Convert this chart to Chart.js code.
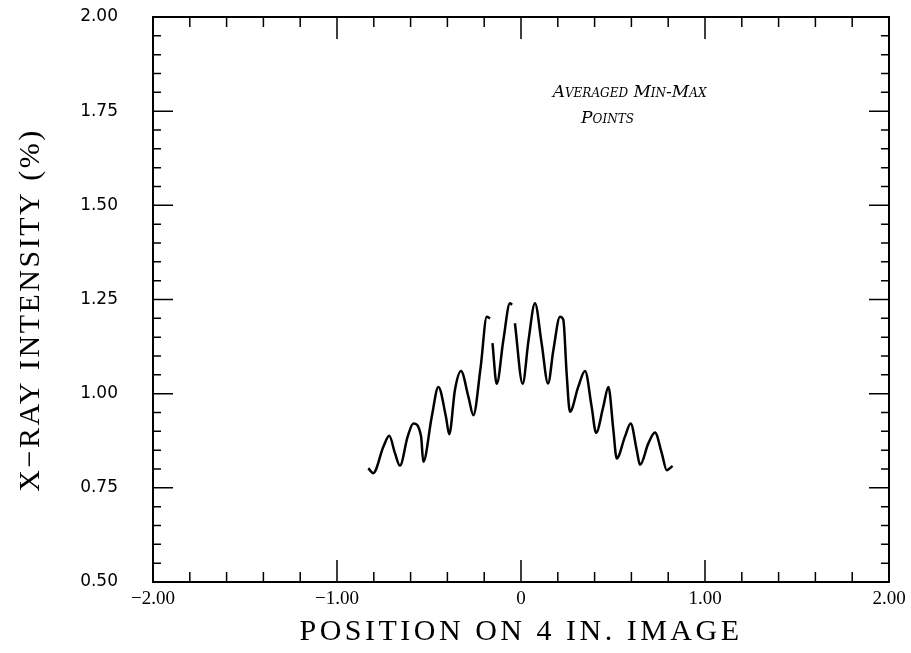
<!DOCTYPE html>
<html>
<head>
<meta charset="utf-8">
<script src="https://cdn.jsdelivr.net/npm/chart.js@4"></script>
<style>
  html, body { margin: 0; padding: 0; background: #fff; }
  #wrap { width: 911px; height: 653px; }
</style>
</head>
<body>
<div id="wrap"><canvas id="c" width="911" height="653"></canvas></div>
<script>
// ---- data ----
const positions = [
  -0.830, -0.803, -0.748, -0.716, -0.685, -0.658, -0.616, -0.585, -0.543, -0.531,
  -0.485, -0.449, -0.408, -0.390, -0.359, -0.326, -0.286, -0.259, -0.219, -0.186,
  -0.168, -0.161, -0.155, -0.132, -0.096, -0.060, -0.048, -0.040, -0.033, 0.009,
  0.041, 0.076, 0.112, 0.147, 0.176, 0.212, 0.230, 0.248, 0.266, 0.311,
  0.348, 0.384, 0.408, 0.447, 0.475, 0.502, 0.520, 0.565, 0.596, 0.629,
  0.647, 0.692, 0.728, 0.765, 0.792, 0.824
];
const intensity = [
  0.802, 0.789, 0.859, 0.888, 0.842, 0.809, 0.886, 0.921, 0.886, 0.819,
  0.939, 1.018, 0.939, 0.892, 1.010, 1.060, 0.992, 0.943, 1.072, 1.204,
  1.200, null, 1.134, 1.026, 1.142, 1.240, 1.236, null, 1.187, 1.026,
  1.142, 1.240, 1.134, 1.027, 1.116, 1.204, 1.196, 1.054, 0.952, 1.018,
  1.060, 0.965, 0.896, 0.965, 1.018, 0.903, 0.828, 0.886, 0.921, 0.850,
  0.811, 0.868, 0.897, 0.842, 0.797, 0.808
];
const yTickValues = [0.50, 0.75, 1.00, 1.25, 1.50, 1.75, 2.00];
const xTickValues = [-2, -1, 0, 1, 2];
const xTickLabels = ['\u22122.00', '\u22121.00', '0', '1.00', '2.00'];
const yTitle = 'X\u2212RAY INTENSITY (%)';
const xTitle = 'POSITION ON 4 IN. IMAGE';
const noteLines = ['Averaged Min-Max', 'Points'];
const noteX = [0.59, 0.47];
const noteY = [1.80, 1.73];

const points = positions.map((x, i) => ({ x: x, y: intensity[i] }));

const frameTicks = {
  id: 'frameTicks',
  afterDraw(chart) {
    const ctx = chart.ctx;
    const xs = chart.scales.x, ys = chart.scales.y;
    const L = xs.left, R = xs.right, T = ys.top, B = ys.bottom;
    ctx.save();
    ctx.strokeStyle = '#000';
    ctx.lineWidth = 2;
    ctx.strokeRect(L, T, R - L, B - T);
    ctx.lineWidth = 1.5;
    ctx.beginPath();
    for (let k = 0; k <= 30; k++) {
      const v = 0.5 + k * 0.05;
      const p = ys.getPixelForValue(v);
      const len = (k % 5 === 0) ? 20 : 8;
      ctx.moveTo(L, p); ctx.lineTo(L + len, p);
      ctx.moveTo(R, p); ctx.lineTo(R - len, p);
    }
    for (let k = 0; k <= 20; k++) {
      const v = -2 + k * 0.2;
      const p = xs.getPixelForValue(v);
      const len = (k % 5 === 0) ? 22 : 10;
      ctx.moveTo(p, B); ctx.lineTo(p, B - len);
      ctx.moveTo(p, T); ctx.lineTo(p, T + len);
    }
    ctx.stroke();
    ctx.fillStyle = '#000';
    // note
    ctx.font = 'italic small-caps 17px "DejaVu Serif"';
    ctx.textAlign = 'center';
    ctx.textBaseline = 'middle';
    noteLines.forEach((t, i) => {
      ctx.fillText(t, xs.getPixelForValue(noteX[i]), ys.getPixelForValue(noteY[i]));
    });
    // axis titles
    ctx.font = '30px "Liberation Serif"';
    ctx.letterSpacing = '3.5px';
    ctx.fillText(xTitle, (L + R) / 2, 632);
    ctx.save();
    ctx.translate(31, 310);
    ctx.rotate(-Math.PI / 2);
    ctx.letterSpacing = '2.5px';
    ctx.fillText(yTitle, 0, 0);
    ctx.restore();
    ctx.restore();
  }
};

new Chart(document.getElementById('c'), {
  type: 'scatter',
  data: {
    datasets: [{
      data: points,
      showLine: true,
      spanGaps: false,
      borderColor: '#000',
      borderWidth: 2.5,
      pointRadius: 0,
      cubicInterpolationMode: 'monotone',
      fill: false
    }]
  },
  options: {
    responsive: false,
    animation: false,
    devicePixelRatio: 1,
    layout: { padding: { left: 0, right: 22, top: 17, bottom: 0 } },
    plugins: { legend: { display: false }, tooltip: { enabled: false } },
    scales: {
      x: {
        type: 'linear', min: -2, max: 2,
        afterBuildTicks: s => { s.ticks = xTickValues.map(v => ({ value: v })); },
        afterFit: s => { s.height = 71; s.paddingLeft = 0; s.paddingRight = 0; },
        grid: { display: false, drawTicks: false },
        border: { display: false },
        ticks: {
          color: '#000', padding: 6, maxRotation: 0, autoSkip: false,
          font: { family: '"Liberation Serif"', size: 19 },
          callback: (v, i) => xTickLabels[i]
        },
        title: { display: false }
      },
      y: {
        type: 'linear', min: 0.5, max: 2.0,
        afterBuildTicks: s => { s.ticks = yTickValues.map(v => ({ value: v })); },
        afterFit: s => { s.width = 153; s.paddingTop = 0; s.paddingBottom = 0; },
        grid: { display: false, drawTicks: false },
        border: { display: false },
        ticks: {
          color: '#000', padding: 35, autoSkip: false,
          font: { family: '"DejaVu Sans"', size: 17 },
          callback: v => v.toFixed(2)
        },
        title: { display: false }
      }
    }
  },
  plugins: [frameTicks]
});
</script>
</body>
</html>
